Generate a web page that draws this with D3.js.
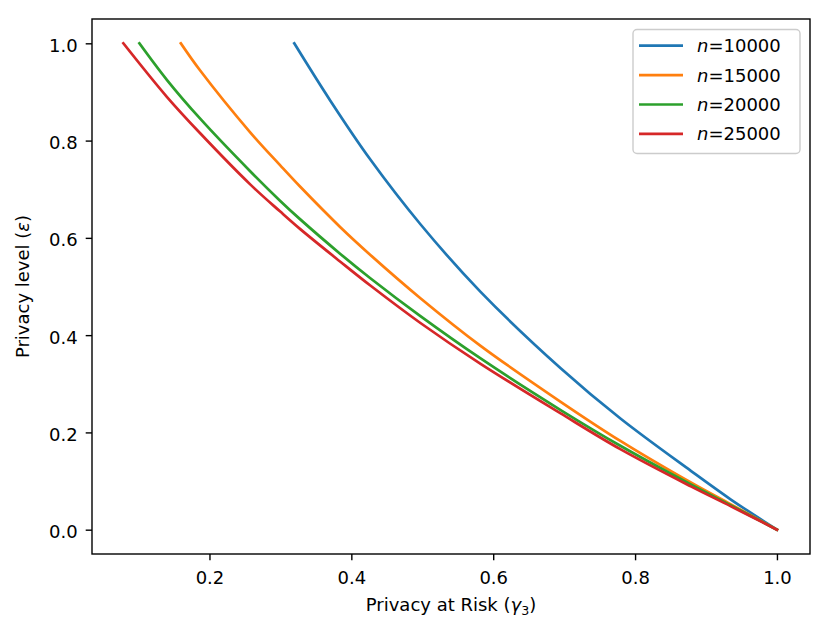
<!DOCTYPE html>
<html>
<head>
<meta charset="utf-8">
<script src="https://cdn.jsdelivr.net/npm/d3@7"></script>
<style>
  body { margin: 0; background: #fff; }
  svg { font-family: "DejaVu Sans", sans-serif; }
</style>
</head>
<body>
<div id="chart"></div>
<script>
// Values: privacy at risk (gamma_3) and privacy level (epsilon)
var seriesNames = ["10000", "15000", "20000", "25000"];
var seriesColors = ["#1f77b4", "#ff7f0e", "#2ca02c", "#d62728"];

var gamma10000 = [0.3195, 0.3704, 0.4268, 0.4974, 0.5822, 0.6951, 0.7798, 0.8786, 0.9351, 1.0];
var eps10000   = [1.000, 0.882, 0.761, 0.628, 0.489, 0.332, 0.228, 0.121, 0.062, 0.0];

var gamma15000 = [0.1596, 0.1869, 0.2574, 0.2998, 0.3280, 0.3845, 0.4268, 0.4974, 0.5822, 0.6951, 0.7798, 0.8786, 0.9351, 1.0];
var eps15000   = [1.000, 0.944, 0.817, 0.749, 0.705, 0.622, 0.565, 0.476, 0.378, 0.263, 0.182, 0.097, 0.052, 0.0];

var gamma20000 = [0.1012, 0.1399, 0.1869, 0.2574, 0.2998, 0.3280, 0.3845, 0.4268, 0.4974, 0.5822, 0.6951, 0.7798, 0.8786, 0.9351, 1.0];
var eps20000   = [1.000, 0.925, 0.845, 0.737, 0.676, 0.638, 0.567, 0.517, 0.439, 0.352, 0.246, 0.172, 0.093, 0.050, 0.0];

var gamma25000 = [0.0786, 0.1399, 0.1869, 0.2574, 0.2998, 0.3280, 0.3845, 0.4268, 0.4974, 0.5822, 0.6951, 0.7798, 0.8786, 0.9351, 1.0];
var eps25000   = [1.000, 0.890, 0.815, 0.710, 0.654, 0.618, 0.551, 0.502, 0.425, 0.341, 0.239, 0.165, 0.089, 0.048, 0.0];

var xTicks = [0.2, 0.4, 0.6, 0.8, 1.0];
var yTicks = [0.0, 0.2, 0.4, 0.6, 0.8, 1.0];

var gammaSeries = [gamma10000, gamma15000, gamma20000, gamma25000];
var epsSeries = [eps10000, eps15000, eps20000, eps25000];

// Figure and axes box (pixels)
var W = 830, H = 633;
var ax = {left: 92, right: 810, top: 19, bottom: 554};

var svg = d3.select("#chart")
  .append("svg")
  .attr("width", W)
  .attr("height", H);

var x = d3.scaleLinear()
  .domain([0.0344, 1.0466])
  .range([ax.left, ax.right]);

var y = d3.scaleLinear()
  .domain([-0.05, 1.05])
  .range([ax.bottom, ax.top]);

// Curves
var line = d3.line()
  .x(function(d) { return x(d[0]); })
  .y(function(d) { return y(d[1]); })
  .curve(d3.curveCatmullRom.alpha(0.5));

var series = seriesNames.map(function(name, i) {
  return {
    name: name,
    color: seriesColors[i],
    points: gammaSeries[i].map(function(g, j) { return [g, epsSeries[i][j]]; })
  };
});

svg.append("g")
  .selectAll("path")
  .data(series)
  .enter()
  .append("path")
  .attr("d", function(d) { return line(d.points); })
  .attr("fill", "none")
  .attr("stroke", function(d) { return d.color; })
  .attr("stroke-width", 2.7)
  .attr("stroke-linecap", "square");

// Axes
var xAxis = svg.append("g")
  .attr("transform", "translate(0," + ax.bottom + ")")
  .call(d3.axisBottom(x)
    .tickValues(xTicks)
    .tickSize(6.3)
    .tickPadding(10.9)
    .tickFormat(d3.format(".1f")));

var yAxis = svg.append("g")
  .attr("transform", "translate(" + ax.left + ",0)")
  .call(d3.axisLeft(y)
    .tickValues(yTicks)
    .tickSize(6.3)
    .tickPadding(8)
    .tickFormat(d3.format(".1f")));

[xAxis, yAxis].forEach(function(g) {
  g.select(".domain").remove();
  g.selectAll("line").attr("stroke", "#000").attr("stroke-width", 1.4);
  g.selectAll("text")
    .attr("fill", "#000")
    .style("font-size", "18px")
    .style("font-family", "DejaVu Sans, sans-serif");
});
yAxis.selectAll("text").attr("dy", "0.45em");

// Spines
svg.append("rect")
  .attr("x", ax.left)
  .attr("y", ax.top)
  .attr("width", ax.right - ax.left)
  .attr("height", ax.bottom - ax.top)
  .attr("fill", "none")
  .attr("stroke", "#000")
  .attr("stroke-width", 1.4);

// Axis labels
var xLabel = svg.append("text")
  .attr("x", (ax.left + ax.right) / 2)
  .attr("y", 611)
  .attr("text-anchor", "middle")
  .style("font-size", "18px");
xLabel.append("tspan").text("Privacy at Risk (");
xLabel.append("tspan").style("font-style", "italic").text("γ");
xLabel.append("tspan").attr("dy", 4).style("font-size", "12.6px").text("3");
xLabel.append("tspan").attr("dy", -4).text(")");

var yLabel = svg.append("text")
  .attr("transform", "translate(29," + (ax.top + ax.bottom) / 2 + ") rotate(-90)")
  .attr("text-anchor", "middle")
  .style("font-size", "18px");
yLabel.append("tspan").text("Privacy level (");
yLabel.append("tspan").style("font-style", "italic").text("ε");
yLabel.append("tspan").text(")");

// Legend
var legend = svg.append("g");

legend.append("rect")
  .attr("x", 633)
  .attr("y", 29.5)
  .attr("width", 167)
  .attr("height", 124)
  .attr("rx", 4)
  .attr("fill", "#fff")
  .attr("fill-opacity", 0.8)
  .attr("stroke", "#cccccc")
  .attr("stroke-width", 1.4);

var rows = legend.selectAll(".row")
  .data(series)
  .enter()
  .append("g")
  .attr("class", "row")
  .attr("transform", function(d, i) { return "translate(0," + (45.7 + i * 29.4) + ")"; });

rows.append("line")
  .attr("x1", 639)
  .attr("x2", 683)
  .attr("stroke", function(d) { return d.color; })
  .attr("stroke-width", 2.7);

var rowText = rows.append("text")
  .attr("x", 697)
  .attr("dy", "0.36em")
  .style("font-size", "18px");
rowText.append("tspan").style("font-style", "italic").text("n");
rowText.append("tspan").text(function(d) { return "=" + d.name; });
</script>
</body>
</html>
